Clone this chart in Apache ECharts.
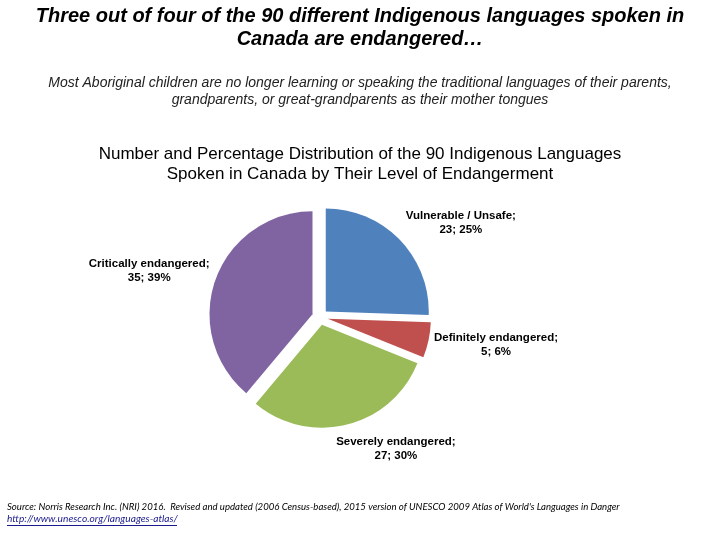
<!DOCTYPE html>
<html><head><meta charset="utf-8">
<script src="https://cdn.jsdelivr.net/npm/echarts@6/dist/echarts.min.js"></script>
<style>html,body{margin:0;padding:0;background:#fff}#c{width:720px;height:540px}</style>
</head><body><div id="c"></div>
<script>
const categories = ['Vulnerable / Unsafe', 'Definitely endangered', 'Severely endangered', 'Critically endangered'];
const counts = [23, 5, 27, 35];
const percents = [25, 6, 30, 39];
const colors = ['#4F81BD', '#C0504D', '#9BBB59', '#8064A2'];

const chart = echarts.init(document.getElementById('c'), null, {renderer: 'canvas'});
const data = categories.map((n, i) => ({
  name: n, value: counts[i], pct: percents[i], selected: true,
  itemStyle: {color: colors[i]}
}));
const font = 'Liberation Sans, Arial';
chart.setOption({
  animation: false,
  title: [
    {text: 'Three out of four of the 90 different Indigenous languages spoken in\nCanada are endangered…',
     left: 'center', top: 5, padding: 0,
     textStyle: {fontFamily: font, fontSize: 20, fontWeight: 'bold', fontStyle: 'italic', color: '#000', lineHeight: 23}},
    {text: 'Most Aboriginal children are no longer learning or speaking the traditional languages of their parents,\ngrandparents, or great-grandparents as their mother tongues',
     left: 'center', top: 75, padding: 0,
     textStyle: {fontFamily: font, fontSize: 14, fontWeight: 'normal', fontStyle: 'italic', color: '#222', lineHeight: 17}},
    {text: 'Number and Percentage Distribution of the 90 Indigenous Languages\nSpoken in Canada by Their Level of Endangerment',
     left: 'center', top: 144, padding: 0,
     textStyle: {fontFamily: font, fontSize: 17, fontWeight: 'normal', color: '#000', lineHeight: 20}},
    {text: 'Source: Norris Research Inc. (NRI) 2016.  Revised and updated (2006 Census-based), 2015 version of UNESCO 2009 Atlas of World\'s Languages in Danger',
     left: 7, top: 501, padding: 0,
     textStyle: {fontFamily: 'Lato', fontSize: 9.6, fontWeight: 'normal', fontStyle: 'italic', color: '#000', lineHeight: 12}},
    {text: 'http://www.unesco.org/languages-atlas/',
     left: 7, top: 513, padding: 0,
     textStyle: {fontFamily: 'Lato', fontSize: 10.2, fontWeight: 'normal', fontStyle: 'italic', color: '#1a1a8c', lineHeight: 12}}
  ],
  graphic: [
    {type: 'line', shape: {x1: 7, y1: 525.5, x2: 177, y2: 525.5}, style: {stroke: '#1a1a8c', lineWidth: 1}}
  ],
  series: [{
    type: 'pie',
    center: [320, 317],
    radius: 103,
    startAngle: 90,
    clockwise: true,
    selectedMode: 'multiple',
    selectedOffset: 8,
    data: data,
    itemStyle: {borderWidth: 0},
    select: {itemStyle: {borderWidth: 0}},
    label: {
      show: true, position: 'outside',
      formatter: p => p.name + ';\n' + p.value + '; ' + p.data.pct + '%',
      fontFamily: font, fontSize: 11.5, fontWeight: 'bold', color: '#000', lineHeight: 14
    },
    labelLine: {show: false, length: 25, length2: 38},
    labelLayout: function () { return {align: 'center'}; }
  }]
});
</script></body></html>
